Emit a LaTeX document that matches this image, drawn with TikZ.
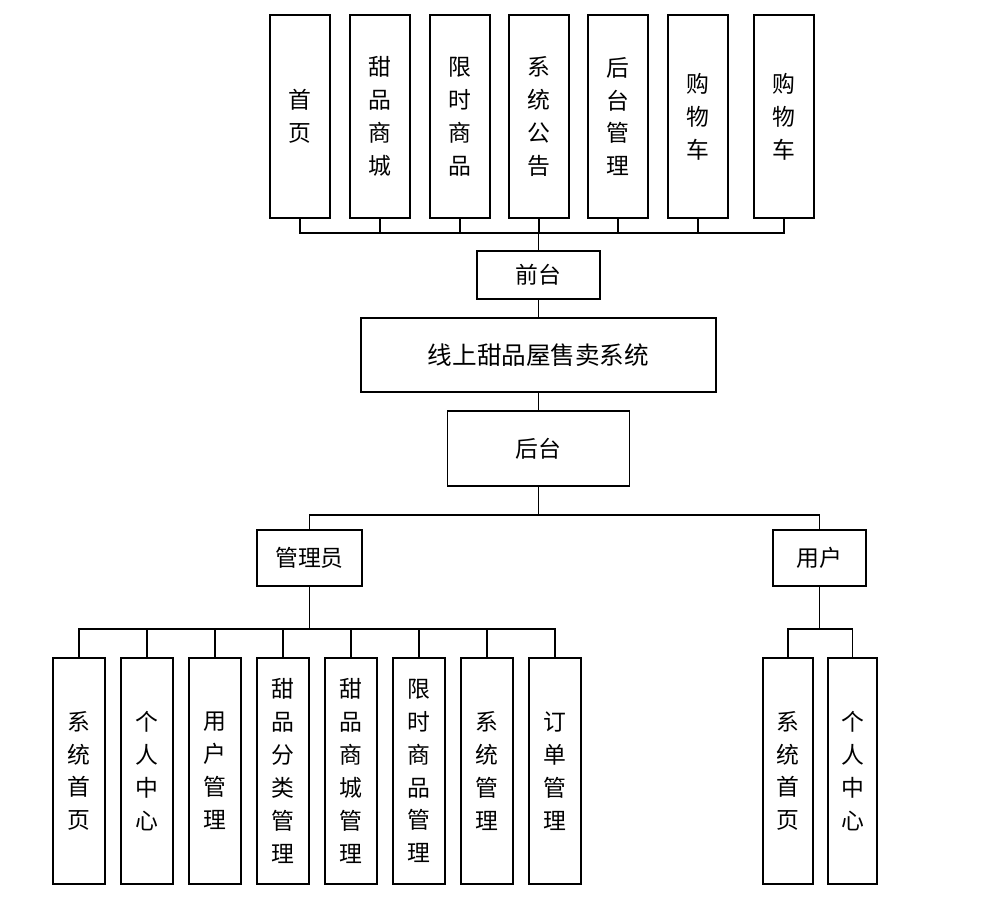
\documentclass[tikz,border=0pt]{standalone}
\usepackage{fontspec}
\newfontfamily\cjk{Noto Sans CJK SC}
\tikzset{
  box/.style={draw,line width=1.1pt,inner sep=0pt,align=center,font=\cjk\fontsize{13}{18.7}\selectfont},
  sz/.style 2 args={minimum width=#1*0.02cm,minimum height=#2*0.02cm},
  link/.style={line width=0.8pt}
}

\begin{document}
\begin{tikzpicture}[x=0.02cm,y=-0.02cm,line cap=rect,line join=miter]
\useasboundingbox (0,0) rectangle (981,909);
% front end
\node[box,sz={60}{203}] (t1) at (300,116.5) {首\\页};
\node[box,sz={60}{203}] (t2) at (380,116.5) {甜\\品\\商\\城};
\node[box,sz={60}{203}] (t3) at (460,116.5) {限\\时\\商\\品};
\node[box,sz={60}{203}] (t4) at (539,116.5) {系\\统\\公\\告};
\node[box,sz={60}{203}] (t5) at (618,116.5) {后\\台\\管\\理};
\node[box,sz={60}{203}] (t6) at (698,116.5) {购\\物\\车};
\node[box,sz={60}{203}] (t7) at (784,116.5) {购\\物\\车};
\node[box,sz={123}{48}] (qiantai) at (538.5,275) {前台};
\node[box,sz={355}{74},font=\cjk\fontsize{14}{18}\selectfont] (sys) at (538.5,355) {线上甜品屋售卖系统};
\node[box,sz={182}{75}] (houtai) at (538.5,448.5) {后台};
\node[box,sz={105}{56}] (admin) at (309.5,558) {管理员};
\node[box,sz={93}{56}] (user) at (819.5,558) {用户};
% admin functions
\node[box,sz={52}{226}] (a1) at (79,771) {系\\统\\首\\页};
\node[box,sz={52}{226}] (a2) at (147,771) {个\\人\\中\\心};
\node[box,sz={52}{226}] (a3) at (215,771) {用\\户\\管\\理};
\node[box,sz={52}{226}] (a4) at (283,771) {甜\\品\\分\\类\\管\\理};
\node[box,sz={52}{226}] (a5) at (351,771) {甜\\品\\商\\城\\管\\理};
\node[box,sz={52}{226}] (a6) at (419,771) {限\\时\\商\\品\\管\\理};
\node[box,sz={52}{226}] (a7) at (487,771) {系\\统\\管\\理};
\node[box,sz={52}{226}] (a8) at (555,771) {订\\单\\管\\理};
% user functions
\node[box,sz={50}{226}] (u1) at (788,771) {系\\统\\首\\页};
\node[box,sz={49}{226}] (u2) at (852.5,771) {个\\人\\中\\心};
\coordinate (topbus) at (538.5,233);
\coordinate (midbus) at (538.5,515);
\coordinate (adminbus) at (309.5,629);
\coordinate (userbus) at (819.5,629);
\foreach \n in {t1,t2,t3,t4,t5,t6,t7}
  \draw[link] (qiantai.north) -- (topbus) -| (\n.south);
\draw[link] (qiantai.south) -- (sys.north);
\draw[link] (sys.south) -- (houtai.north);
\draw[link] (houtai.south) -- (midbus) -| (admin.north);
\draw[link] (houtai.south) -- (midbus) -| (user.north);
\foreach \n in {a1,a2,a3,a4,a5,a6,a7,a8}
  \draw[link] (admin.south) -- (adminbus) -| (\n.north);
\foreach \n in {u1,u2}
  \draw[link] (user.south) -- (userbus) -| (\n.north);
\end{tikzpicture}
\end{document}
